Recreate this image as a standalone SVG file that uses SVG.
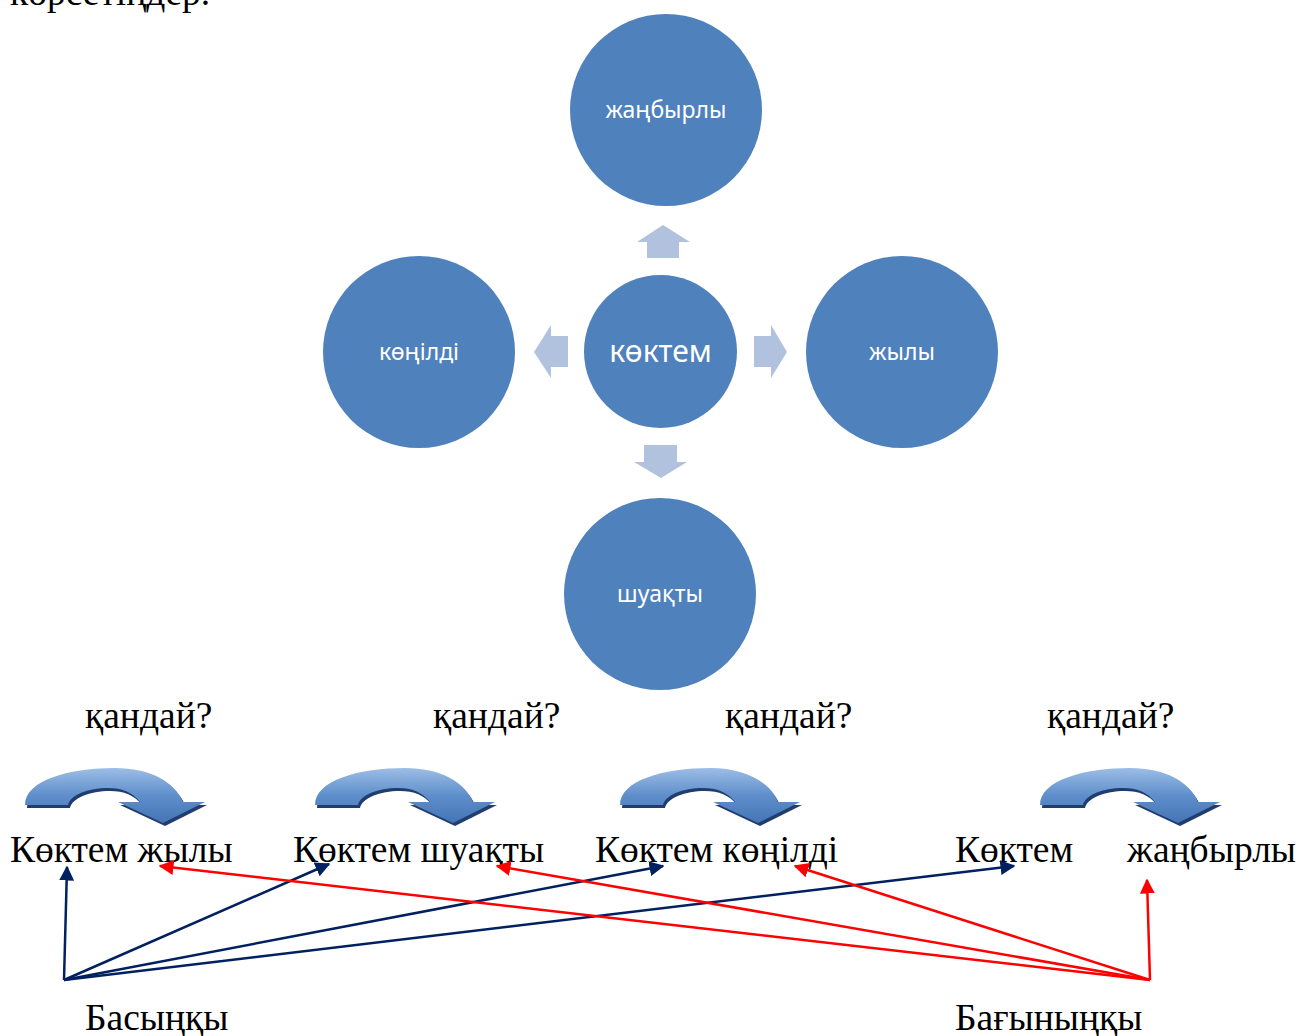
<svg xmlns="http://www.w3.org/2000/svg" width="1297" height="1036" viewBox="0 0 1297 1036">
<style>
.circ{fill:#4F81BD}
.ctext{font-family:"Noto Sans","Open Sans",sans-serif;fill:#fff;text-anchor:middle}
.dir{fill:#B0C2DE}
.t{font-family:"Liberation Serif","Times New Roman",serif;font-size:37.5px;fill:#000}
.blue{stroke:#002060;stroke-width:2.5;fill:none;marker-end:url(#mb)}
.red{stroke:#FF0000;stroke-width:2.5;fill:none;marker-end:url(#mr)}
</style>
<defs>
<marker id="mb" viewBox="0 0 10 10" refX="9" refY="5" markerWidth="6" markerHeight="6" orient="auto" markerUnits="strokeWidth"><path d="M0,0 L10,5 L0,10 Z" fill="#002060"/></marker>
<marker id="mr" viewBox="0 0 10 10" refX="9" refY="5" markerWidth="6" markerHeight="6" orient="auto" markerUnits="strokeWidth"><path d="M0,0 L10,5 L0,10 Z" fill="#FF0000"/></marker>
<linearGradient id="cg" x1="0" y1="0" x2="0" y2="1">
<stop offset="0" stop-color="#9DBDE6"/>
<stop offset="0.5" stop-color="#5E8FCB"/>
<stop offset="1" stop-color="#4474B4"/>
</linearGradient>
<g id="curve">
<path d="M27,808 C27,783 72,771 117,771 C152,771 177,785 185,805 L207,805 L165,826 L120,805 L142,805 C134,795 124,791 110,791 C90,791 72,798 70,808 Z" fill="#1F3D6E"/>
<path d="M25,805 C25,780 70,768 115,768 C150,768 175,782 183,802 L205,802 L163,823 L118,802 L140,802 C132,792 122,788 108,788 C88,788 70,795 68,805 Z" fill="url(#cg)"/>
</g>
</defs>
<rect width="1297" height="1036" fill="#fff"/>
<text class="t" x="10" y="5">көрсетіңдер.</text>

<g id="center"><circle class="circ" cx="660.5" cy="351.5" r="76.5"/><text class="ctext" x="660.5" y="362" font-size="30">көктем</text></g>
<g id="top"><circle class="circ" cx="666" cy="110" r="96"/><text class="ctext" x="666" y="118" font-size="23">жаңбырлы</text></g>
<g id="left"><circle class="circ" cx="419" cy="352" r="96"/><text class="ctext" x="419" y="360" font-size="23">көңілді</text></g>
<g id="right"><circle class="circ" cx="902" cy="352" r="96"/><text class="ctext" x="902" y="360" font-size="23">жылы</text></g>
<g id="bottom"><circle class="circ" cx="660" cy="594" r="96"/><text class="ctext" x="660" y="602" font-size="23">шуақты</text></g>

<g id="dir-arrows">
<path class="dir" d="M663,225 L690,242 L679,242 L679,258 L647,258 L647,242 L637,242 Z"/>
<path class="dir" d="M534,352 L551,325 L551,336 L568,336 L568,367 L551,367 L551,378 Z"/>
<path class="dir" d="M787,352 L771,325 L771,336 L754,336 L754,367 L771,367 L771,378 Z"/>
<path class="dir" d="M661,478 L687,462 L677,462 L677,445 L644,445 L644,462 L634,462 Z"/>
</g>

<g id="q1"><text class="t" x="85" y="728">қандай?</text></g>
<g id="q2"><text class="t" x="433" y="728">қандай?</text></g>
<g id="q3"><text class="t" x="725" y="728">қандай?</text></g>
<g id="q4"><text class="t" x="1047" y="728">қандай?</text></g>

<g id="curves">
<use href="#curve"/>
<use href="#curve" x="290"/>
<use href="#curve" x="595"/>
<use href="#curve" x="1015"/>
</g>

<g id="w1"><text class="t" x="10" y="862">Көктем жылы</text></g>
<g id="w2"><text class="t" x="293" y="862">Көктем шуақты</text></g>
<g id="w3"><text class="t" x="595" y="862">Көктем көңілді</text></g>
<g id="w4"><text class="t" x="955" y="862">Көктем</text></g>
<g id="w5"><text class="t" x="1127" y="862">жаңбырлы</text></g>
<g id="main"><text class="t" x="85" y="1030">Басыңқы</text></g>
<g id="sub"><text class="t" x="955" y="1030">Бағыныңқы</text></g>

<g id="connectors">
<line class="blue" x1="64" y1="980" x2="67" y2="867"/>
<line class="blue" x1="64" y1="980" x2="329" y2="864"/>
<line class="blue" x1="64" y1="980" x2="663" y2="866"/>
<line class="blue" x1="64" y1="980" x2="1014" y2="866"/>
<line class="red" x1="1150" y1="980" x2="1147" y2="880"/>
<line class="red" x1="1150" y1="980" x2="160" y2="866"/>
<line class="red" x1="1150" y1="980" x2="497" y2="866"/>
<line class="red" x1="1150" y1="980" x2="795" y2="866"/>
</g>
</svg>
